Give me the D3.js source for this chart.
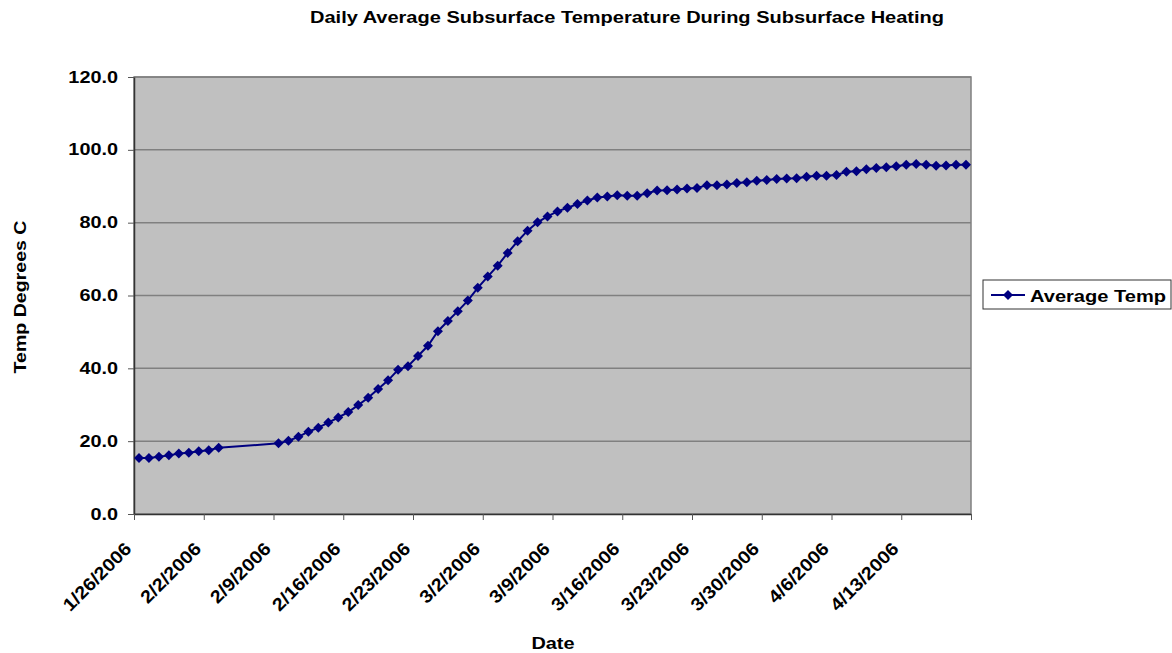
<!DOCTYPE html>
<html>
<head>
<meta charset="utf-8">
<script src="https://cdn.jsdelivr.net/npm/d3@7"></script>
<style>
  html, body { margin: 0; padding: 0; background: #fff; }
  svg { display: block; }
  text { font-family: "Liberation Sans", Arial, sans-serif; font-weight: bold; fill: #000; }
</style>
</head>
<body>
<svg id="chart" width="1172" height="653"></svg>
<script>
// ---- data ----
const dates = [
  "2006-01-26","2006-01-27","2006-01-28","2006-01-29","2006-01-30","2006-01-31","2006-02-01","2006-02-02","2006-02-03",
  "2006-02-09","2006-02-10","2006-02-11","2006-02-12","2006-02-13","2006-02-14","2006-02-15","2006-02-16","2006-02-17",
  "2006-02-18","2006-02-19","2006-02-20","2006-02-21","2006-02-22","2006-02-23","2006-02-24","2006-02-25","2006-02-26",
  "2006-02-27","2006-02-28","2006-03-01","2006-03-02","2006-03-03","2006-03-04","2006-03-05","2006-03-06","2006-03-07",
  "2006-03-08","2006-03-09","2006-03-10","2006-03-11","2006-03-12","2006-03-13","2006-03-14","2006-03-15","2006-03-16",
  "2006-03-17","2006-03-18","2006-03-19","2006-03-20","2006-03-21","2006-03-22","2006-03-23","2006-03-24","2006-03-25",
  "2006-03-26","2006-03-27","2006-03-28","2006-03-29","2006-03-30","2006-03-31","2006-04-01","2006-04-02","2006-04-03",
  "2006-04-04","2006-04-05","2006-04-06","2006-04-07","2006-04-08","2006-04-09","2006-04-10","2006-04-11","2006-04-12",
  "2006-04-13","2006-04-14","2006-04-15","2006-04-16","2006-04-17","2006-04-18","2006-04-19"
];
const avgTemp = [
  15.4, 15.4, 15.7, 16.1, 16.6, 16.8, 17.2, 17.5, 18.2,
  19.4, 20.1, 21.2, 22.6, 23.7, 25.1, 26.5, 28.0, 29.9,
  31.9, 34.3, 36.7, 39.6, 40.6, 43.4, 46.2, 50.2, 53.0,
  55.7, 58.6, 62.1, 65.2, 68.2, 71.7, 74.9, 77.8, 80.1,
  81.7, 83.1, 84.1, 85.1, 86.1, 86.9, 87.2, 87.5, 87.4,
  87.4, 88.1, 88.8, 88.9, 89.1, 89.4, 89.5, 90.3, 90.3,
  90.5, 90.9, 91.1, 91.5, 91.7, 92.0, 92.1, 92.2, 92.6,
  92.9, 92.9, 93.1, 94.0, 94.1, 94.7, 95.0, 95.2, 95.5,
  95.9, 96.1, 95.9, 95.6, 95.7, 95.9, 95.9
];
const xTickDates = ["2006-01-26","2006-02-02","2006-02-09","2006-02-16","2006-02-23","2006-03-02","2006-03-09",
  "2006-03-16","2006-03-23","2006-03-30","2006-04-06","2006-04-13","2006-04-20"];
const xTickLabels = ["1/26/2006","2/2/2006","2/9/2006","2/16/2006","2/23/2006","3/2/2006","3/9/2006",
  "3/16/2006","3/23/2006","3/30/2006","4/6/2006","4/13/2006",""];
const yTicks = [0, 20, 40, 60, 80, 100, 120];
const seriesName = "Average Temp";
const titleText = "Daily Average Subsurface Temperature During Subsurface Heating";
const xTitle = "Date";
const yTitle = "Temp Degrees C";

// ---- layout ----
const svg = d3.select("#chart");
const L = 134, R = 971, T = 77, B = 514;
const navy = "#000080";
const parse = d3.utcParse("%Y-%m-%d");

const x = d3.scaleUtc()
  .domain([parse("2006-01-26"), parse("2006-04-20")])
  .range([L, R]);
const y = d3.scaleLinear().domain([0, 120]).range([B, T]);

const data = dates.map((d, i) => ({ date: d3.utcHour.offset(parse(d), 12), v: avgTemp[i] }));

function stretch(sel, f) {
  sel.each(function () {
    const len = this.getComputedTextLength();
    if (len > 0) {
      this.setAttribute("textLength", len * f);
      this.setAttribute("lengthAdjust", "spacingAndGlyphs");
    }
  });
}

// plot background
svg.append("rect").attr("x", L).attr("y", T).attr("width", R - L).attr("height", B - T)
  .attr("fill", "#c0c0c0").attr("stroke", "#808080").attr("stroke-width", 1.5);

// gridlines
svg.append("g").selectAll("line").data(yTicks.filter(d => d > 0)).join("line")
  .attr("x1", L).attr("x2", R)
  .attr("y1", d => y(d)).attr("y2", d => y(d))
  .attr("stroke", "#808080").attr("stroke-width", 1.5);

// axes
const yAxis = svg.append("g").attr("transform", `translate(${L},0)`)
  .call(d3.axisLeft(y).tickValues(yTicks).tickFormat(d3.format(".1f")).tickSize(6).tickPadding(10).tickSizeOuter(0));
yAxis.select(".domain").attr("stroke", "#333").attr("stroke-width", 1.5);
yAxis.selectAll(".tick line").attr("stroke", "#555");
yAxis.selectAll(".tick text").attr("font-size", 16).attr("font-family", null).attr("fill", "#000");
stretch(yAxis.selectAll(".tick text"), 1.24);

const xTickVals = xTickDates.map(parse);
const xAxis = svg.append("g").attr("transform", `translate(0,${B})`)
  .call(d3.axisBottom(x).tickValues(xTickVals)
    .tickFormat((d, i) => xTickLabels[i]).tickSize(6).tickSizeOuter(0));
xAxis.select(".domain").attr("stroke", "#333").attr("stroke-width", 1.5);
xAxis.selectAll(".tick line").attr("stroke", "#555");
xAxis.selectAll(".tick text")
  .attr("font-size", 18).attr("font-family", null).attr("fill", "#000")
  .attr("text-anchor", "end")
  .attr("x", 0).attr("y", 0).attr("dy", null)
  .attr("transform", "translate(-2,36) rotate(-45)");
stretch(xAxis.selectAll(".tick text"), 1.1);

// line + markers
const line = d3.line().x(d => x(d.date)).y(d => y(d.v));
svg.append("path").datum(data).attr("d", line)
  .attr("fill", "none").attr("stroke", navy).attr("stroke-width", 2);

const diamond = d3.symbol(d3.symbolSquare, 50);
svg.append("g").selectAll("path").data(data).join("path")
  .attr("d", diamond)
  .attr("transform", d => `translate(${x(d.date)},${y(d.v)}) rotate(45)`)
  .attr("fill", navy);

// titles
const title = svg.append("text").attr("x", 627).attr("y", 23).attr("text-anchor", "middle")
  .attr("font-size", 16).text(titleText);
title.attr("textLength", 634).attr("lengthAdjust", "spacingAndGlyphs");

const xt = svg.append("text").attr("x", 553).attr("y", 649).attr("text-anchor", "middle")
  .attr("font-size", 17).text(xTitle);
stretch(xt, 1.17);

const yt = svg.append("text").attr("transform", "translate(26,297) rotate(-90)")
  .attr("text-anchor", "middle").attr("font-size", 17).text(yTitle);
stretch(yt, 1.15);

// legend
const lg = svg.append("g");
lg.append("rect").attr("x", 983).attr("y", 280).attr("width", 188).attr("height", 29)
  .attr("fill", "#fff").attr("stroke", "#333").attr("stroke-width", 1);
lg.append("line").attr("x1", 991).attr("x2", 1025).attr("y1", 295).attr("y2", 295)
  .attr("stroke", navy).attr("stroke-width", 2);
lg.append("path").attr("d", diamond).attr("transform", "translate(1008,295) rotate(45)").attr("fill", navy);
const lt = lg.append("text").attr("x", 1030).attr("y", 302).attr("font-size", 17).text(seriesName);
stretch(lt, 1.18);
</script>
</body>
</html>
